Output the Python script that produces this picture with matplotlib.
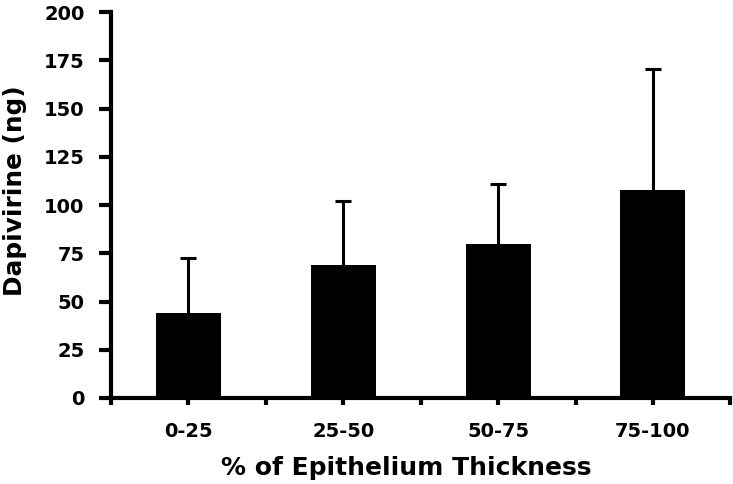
import matplotlib
matplotlib.use("Agg")
import matplotlib.pyplot as plt
import numpy as np

plt.rcParams['font.family'] = ['DejaVu Sans']
plt.rcParams['font.weight'] = 'bold'

categories = ['0-25', '25-50', '50-75', '75-100']
means = [44, 69, 80, 108]
errors = [28.5, 33, 31, 62.5]
y_ticks = [0, 25, 50, 75, 100, 125, 150, 175, 200]

fig = plt.figure(figsize=(7.33, 4.84), dpi=100)
ax = fig.add_axes([0.1514, 0.1777, 0.845, 0.7973])

x = np.arange(len(categories))
# symmetric error bars drawn behind the bars, so only the upper half shows
ax.errorbar(x, means, yerr=errors, fmt='none',
            ecolor='black', elinewidth=2.2, capsize=6, capthick=2.2, zorder=1)
ax.bar(x, means, width=0.42, color='black', zorder=2)

ax.set_xlim(-0.5, 3.5)
ax.set_ylim(0, 200)
ax.set_yticks(y_ticks)
ax.set_xticks(x)
ax.set_xticklabels(categories)
ax.set_xticks(np.arange(-0.5, 3.6, 1.0), minor=True)

for s in ['top', 'right']:
    ax.spines[s].set_visible(False)
for s in ['left', 'bottom']:
    ax.spines[s].set_linewidth(3)

ax.tick_params(axis='y', direction='out', length=9, width=3, labelsize=14, pad=10)
ax.tick_params(axis='x', which='both', direction='out', length=5, width=3, labelsize=14, pad=12)

ax.set_ylabel('Dapivirine (ng)', fontsize=17.8, fontweight='bold')
ax.set_xlabel('% of Epithelium Thickness', fontsize=18, fontweight='bold')
ax.yaxis.set_label_coords(-0.136, 0.536)
ax.xaxis.set_label_coords(0.4766, -0.151)

fig.savefig('out.png', dpi=100)
